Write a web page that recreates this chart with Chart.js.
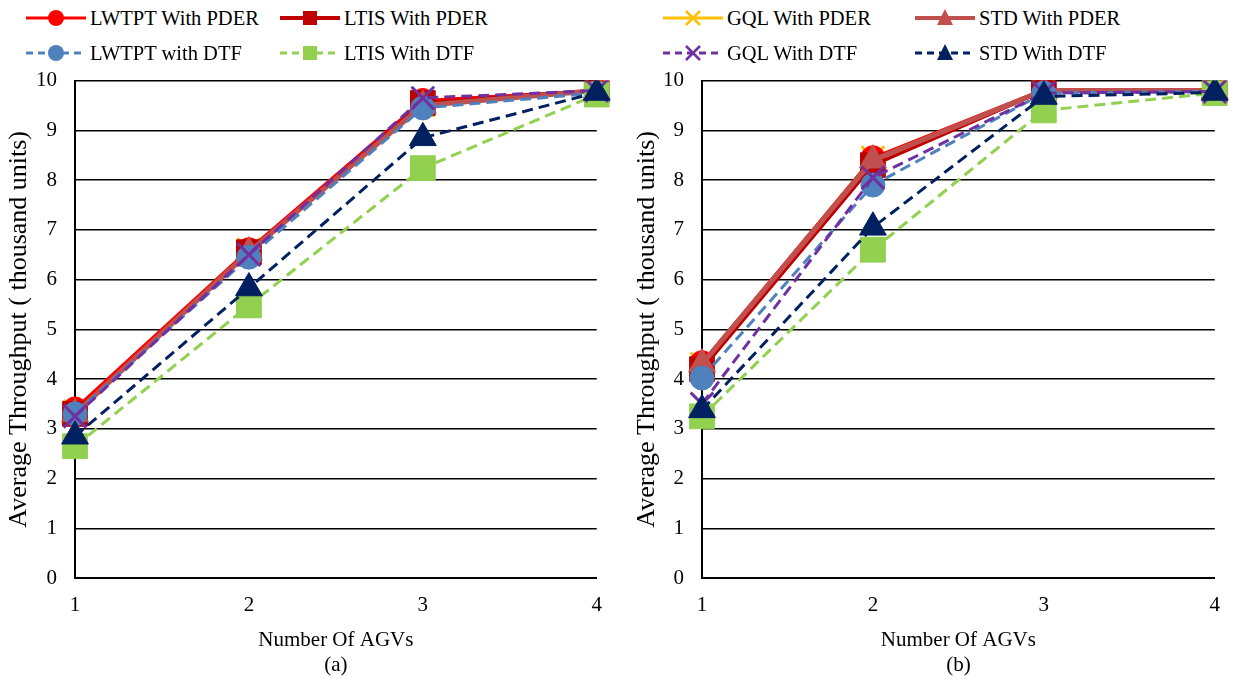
<!DOCTYPE html>
<html>
<head>
<meta charset="utf-8">
<script src="https://cdn.jsdelivr.net/npm/chart.js@4.4.0/dist/chart.umd.min.js"></script>
<style>
  body { margin: 0; background: #fff; width: 1235px; height: 679px; position: relative; overflow: hidden; }
  canvas { position: absolute; top: 50px; }
  .leg { position: absolute; font-family: "Liberation Serif", "Times New Roman", "DejaVu Serif", serif; font-size: 20.5px; color: #000; white-space: nowrap; }
  .leg svg { position: absolute; left: 0; top: 0; }
  .leg span { position: absolute; top: 0; line-height: 24px; }
</style>
</head>
<body>
<canvas id="chartA" width="617" height="631" style="left:0"></canvas>
<canvas id="chartB" width="618" height="631" style="left:617px"></canvas>
<div id="legend"></div>
<script>
const categories = ['1', '2', '3', '4'];
const yTicks = [0, 1, 2, 3, 4, 5, 6, 7, 8, 9, 10];

const names = ['LWTPT With PDER', 'LTIS With PDER', 'LWTPT with DTF', 'LTIS With DTF',
               'GQL With PDER', 'STD With PDER', 'GQL With DTF', 'STD With DTF'];
const colors = ['#FF0000', '#C00000', '#4F81BD', '#92D050', '#FFC000', '#C0504D', '#7030A0', '#002060'];
const markers = ['circle', 'rect', 'circle', 'rect', 'crossRot', 'triangle', 'crossRot', 'triangle'];
const dashed = [false, false, true, true, false, false, true, true];

// panel (a)
const aLwtptPder = [3.40, 6.60, 9.60, 9.80];
const aLtisPder  = [3.30, 6.55, 9.55, 9.80];
const aLwtptDtf  = [3.30, 6.45, 9.45, 9.75];
const aLtisDtf   = [2.65, 5.48, 8.24, 9.72];
const aGqlPder   = [3.35, 6.60, 9.50, 9.80];
const aStdPder   = [3.30, 6.55, 9.50, 9.80];
const aGqlDtf    = [3.25, 6.50, 9.65, 9.80];
const aStdDtf    = [2.85, 5.83, 8.85, 9.76];

// panel (b)
const bLwtptPder = [4.33, 8.45, 9.82, 9.80];
const bLtisPder  = [4.20, 8.30, 9.80, 9.80];
const bLwtptDtf  = [4.02, 7.90, 9.75, 9.78];
const bLtisDtf   = [3.25, 6.60, 9.40, 9.75];
const bGqlPder   = [4.30, 8.45, 9.80, 9.80];
const bStdPder   = [4.30, 8.40, 9.80, 9.80];
const bGqlDtf    = [3.50, 8.05, 9.75, 9.78];
const bStdDtf    = [3.38, 7.05, 9.68, 9.76];

const drawOrder = [6, 5, 3, 2, 7, 4, 1, 0];
const radii = { circle: 12, rect: 17.5, crossRot: 16, triangle: 15.5 };
const lineW = [3, 3.5, 3, 3, 3, 5, 3, 3];

function makeDatasets(series) {
  return series.map((vals, i) => ({
    label: names[i],
    data: vals,
    borderColor: colors[i],
    backgroundColor: colors[i],
    borderWidth: lineW[i],
    borderDash: dashed[i] ? [11, 6] : [],
    pointStyle: markers[i],
    pointRadius: radii[markers[i]],
    pointBorderWidth: markers[i] === 'crossRot' ? 3 : 1,
    pointBackgroundColor: colors[i],
    pointBorderColor: colors[i],
    pointHoverRadius: radii[markers[i]],
    tension: 0,
    order: drawOrder[i]
  }));
}

const serif = '"Liberation Serif", "Times New Roman", "DejaVu Serif", serif';

function makeChart(id, series, caption, yWidth, titlePad) {
  return new Chart(document.getElementById(id), {
    type: 'line',
    data: { labels: categories, datasets: makeDatasets(series) },
    options: {
      responsive: false,
      animation: false,
      events: [],
      layout: { padding: { top: 10, right: 14, bottom: 3, left: 0 } },
      plugins: { legend: { display: false }, tooltip: { enabled: false } },
      scales: {
        x: {
          offset: false,
          grid: { display: false, drawTicks: false },
          border: { display: true, color: '#000', width: 2 },
          ticks: { color: '#000', padding: 15, font: { family: serif, size: 21 } },
          title: {
            display: true, text: ['Number Of AGVs', caption], color: '#000',
            font: { family: serif, size: 21, lineHeight: 1.2 }, padding: { top: 4, bottom: 0 }
          },
          afterFit: s => { s.height = 100; }
        },
        y: {
          min: 0, max: 10,
          afterBuildTicks: s => { s.ticks = yTicks.map(v => ({ value: v })); },
          grid: { color: '#000', lineWidth: 1.5, drawTicks: false },
          border: { display: true, color: '#000', width: 2 },
          ticks: { color: '#000', padding: 18, font: { family: serif, size: 21 } },
          title: {
            display: true, text: 'Average Throughput ( thousand units)', color: '#000',
            font: { family: serif, size: 26 }, padding: { top: titlePad, bottom: 0 }
          },
          afterFit: s => { s.width = yWidth; }
        }
      }
    }
  });
}

makeChart('chartA', [aLwtptPder, aLtisPder, aLwtptDtf, aLtisDtf, aGqlPder, aStdPder, aGqlDtf, aStdDtf], '(a)', 75, 4);
makeChart('chartB', [bLwtptPder, bLtisPder, bLwtptDtf, bLtisDtf, bGqlPder, bStdPder, bGqlDtf, bStdDtf], '(b)', 85, 15);

// legend, split across the two panels like the original figure
const legendSlots = [[26, 6], [280, 6], [26, 41], [280, 41], [663, 6], [915, 6], [663, 41], [915, 41]];
function markerSvg(style, c) {
  if (style === 'circle') return `<circle cx="30" cy="12" r="8" fill="${c}"/>`;
  if (style === 'rect') return `<rect x="23" y="5" width="14" height="14" fill="${c}"/>`;
  if (style === 'triangle') return `<polygon points="30,3 38,19 22,19" fill="${c}"/>`;
  return `<path d="M23 5 L37 19 M37 5 L23 19" stroke="${c}" stroke-width="2.5"/>`;
}
const legend = document.getElementById('legend');
names.forEach((n, i) => {
  const [x, y] = legendSlots[i];
  const d = document.createElement('div');
  d.className = 'leg';
  d.style.left = x + 'px';
  d.style.top = y + 'px';
  const dash = dashed[i] ? 'stroke-dasharray="7 5"' : '';
  d.innerHTML = `<svg width="60" height="24"><line x1="0" y1="12" x2="60" y2="12" stroke="${colors[i]}" stroke-width="${lineW[i] > 3 ? 4 : 3}" ${dash}/>${markerSvg(markers[i], colors[i])}</svg><span style="left:64px">${n}</span>`;
  legend.appendChild(d);
});
</script>
</body>
</html>
